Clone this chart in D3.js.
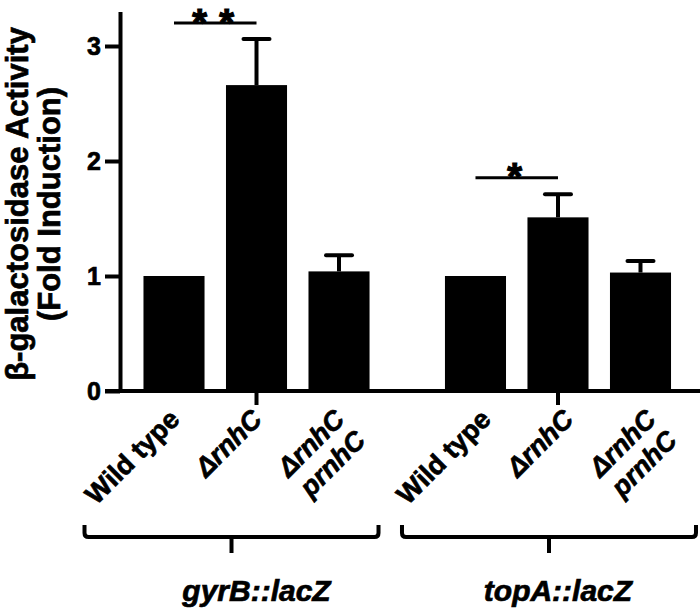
<!DOCTYPE html>
<html lang="en">
<head>
  <meta charset="UTF-8">
  <script src="https://d3js.org/d3.v7.min.js"></script>
  <style>
    body { margin: 0; background: #fff; }
    svg { display: block; }
    text { font-family: "Liberation Sans", Arial, sans-serif; font-weight: bold; fill: #000; stroke: #000; stroke-width: 0.7px; }
  </style>
</head>
<body>
  <div id="chart"></div>
  <script>
    // data
    const groups = ['gyrB::lacZ', 'topA::lacZ'];
    const strains = ['wt', 'rnhC', 'rnhC_p'];
    const strainLabels = [['Wild type'], ['ΔrnhC'], ['ΔrnhC', 'prnhC']];
    const strainItalic = [false, true, true];
    const gyrBValues = [1.0, 2.66, 1.04];
    const gyrBErrors = [0, 0.40, 0.14];
    const topAValues = [1.0, 1.51, 1.03];
    const topAErrors = [0, 0.20, 0.10];
    const yTicks = [0, 1, 2, 3];
    // significance bars: group index, height, marker
    const sigGroup = [0, 1];
    const sigHeight = [3.2, 1.855];
    const sigMarks = ['**', '*'];

    // layout nudges (the original places labels and brackets by hand)
    const labelShift = [7, 17];
    const bracketShift = [-25, -9];

    const W = 700, H = 610;
    const svg = d3.select('#chart').append('svg').attr('width', W).attr('height', H);

    const y = d3.scaleLinear().domain([0, 3.3]).range([391, 11.5]);
    const xGroup = d3.scaleBand().domain(groups).range([132.75, 681.75]).paddingInner(0.179).paddingOuter(0);
    const xStrain = d3.scaleBand().domain(strains).range([0, xGroup.bandwidth()]).paddingInner(0.26).paddingOuter(0.13);

    const rows = [];
    groups.forEach((g, gi) => {
      const vals = gi === 0 ? gyrBValues : topAValues;
      const errs = gi === 0 ? gyrBErrors : topAErrors;
      strains.forEach((s, si) => rows.push({ g, gi, s, si, v: vals[si], e: errs[si] }));
    });
    const cx = d => xGroup(d.g) + xStrain(d.s) + xStrain.bandwidth() / 2;

    // bars
    svg.selectAll('rect.bar').data(rows).enter().append('rect')
      .attr('class', 'bar')
      .attr('x', d => xGroup(d.g) + xStrain(d.s))
      .attr('width', xStrain.bandwidth())
      .attr('y', d => y(d.v))
      .attr('height', d => y(0) - y(d.v))
      .attr('fill', '#000');

    // error bars (upper only)
    const withErr = rows.filter(d => d.e > 0);
    svg.selectAll('line.err').data(withErr).enter().append('line')
      .attr('x1', cx).attr('x2', cx)
      .attr('y1', d => y(d.v)).attr('y2', d => y(d.v + d.e))
      .attr('stroke', '#000').attr('stroke-width', 4);
    svg.selectAll('line.cap').data(withErr).enter().append('line')
      .attr('x1', d => cx(d) - 13).attr('x2', d => cx(d) + 13)
      .attr('y1', d => y(d.v + d.e)).attr('y2', d => y(d.v + d.e))
      .attr('stroke', '#000').attr('stroke-width', 4).attr('stroke-linecap', 'round');

    // y axis
    const yAxis = svg.append('g').attr('transform', 'translate(120,0)')
      .call(d3.axisLeft(y).tickValues(yTicks).tickFormat(d3.format('d')).tickSize(15).tickSizeOuter(0).tickPadding(4));
    yAxis.selectAll('path, line').attr('stroke', '#000').attr('stroke-width', 4);
    yAxis.selectAll('text').style('font-size', '25px').style('font-weight', 'bold')
      .style('font-family', '"Liberation Sans", Arial, sans-serif').attr('fill', '#000');

    // x axis line and group ticks
    svg.append('line').attr('x1', 105).attr('x2', W).attr('y1', y(0)).attr('y2', y(0))
      .attr('stroke', '#000').attr('stroke-width', 4);
    svg.selectAll('line.gtick').data(groups).enter().append('line')
      .attr('x1', g => xGroup(g) + xGroup.bandwidth() / 2).attr('x2', g => xGroup(g) + xGroup.bandwidth() / 2)
      .attr('y1', y(0)).attr('y2', y(0) + 14)
      .attr('stroke', '#000').attr('stroke-width', 4);

    // rotated strain labels
    const lab = svg.selectAll('text.strain').data(rows).enter().append('text')
      .attr('transform', d => `translate(${cx(d) + labelShift[d.gi]},${y(0) + 30}) rotate(-45)`)
      .attr('text-anchor', 'end')
      .style('font-size', '27px')
      .style('font-style', d => strainItalic[d.si] ? 'italic' : 'normal');
    lab.selectAll('tspan').data(d => strainLabels[d.si]).enter().append('tspan')
      .attr('x', 0).attr('dy', (t, i) => i === 0 ? 0 : '1.1em').text(t => t);

    // group brackets
    groups.forEach((g, gi) => {
      const c = xGroup(g) + xGroup.bandwidth() / 2;
      const bc = c + bracketShift[gi];
      const l = bc - 147, r = bc + 147, top = 525, mid = 537;
      svg.append('path')
        .attr('d', `M${l},${top} V${mid - 4} Q${l},${mid} ${l + 4},${mid} H${r - 4} Q${r},${mid} ${r},${mid - 4} V${top}`)
        .attr('fill', 'none').attr('stroke', '#000').attr('stroke-width', 4);
      svg.append('line').attr('x1', bc).attr('x2', bc).attr('y1', mid).attr('y2', 553)
        .attr('stroke', '#000').attr('stroke-width', 4);
      svg.append('text').attr('x', c).attr('y', 601).attr('text-anchor', 'middle')
        .style('font-size', '30px').style('font-style', 'italic').text(g);
    });

    // significance markers
    sigGroup.forEach((gi, i) => {
      const g = groups[gi];
      const x1 = xGroup(g) + xStrain(strains[0]) + xStrain.bandwidth() / 2;
      const x2 = xGroup(g) + xStrain(strains[1]) + xStrain.bandwidth() / 2;
      const ly = y(sigHeight[i]);
      svg.append('line').attr('x1', x1).attr('x2', x2).attr('y1', ly).attr('y2', ly)
        .attr('stroke', '#000').attr('stroke-width', 3);
      const stars = sigMarks[i].split('');
      svg.selectAll(null).data(stars).enter().append('text')
        .attr('x', (s, k) => (x1 + x2) / 2 - 2 + (k - (stars.length - 1) / 2) * 27)
        .attr('y', ly + 12.5)
        .attr('text-anchor', 'middle').style('font-size', '38px').style('stroke-width', '1.2px')
        .text(s => s);
    });

    // y title
    svg.append('text').attr('transform', 'translate(28,204) rotate(-90)').attr('text-anchor', 'middle')
      .style('font-size', '31px').text('β-galactosidase Activity');
    svg.append('text').attr('transform', 'translate(60,204) rotate(-90)').attr('text-anchor', 'middle')
      .style('font-size', '31px').text('(Fold Induction)');
  </script>
</body>
</html>
